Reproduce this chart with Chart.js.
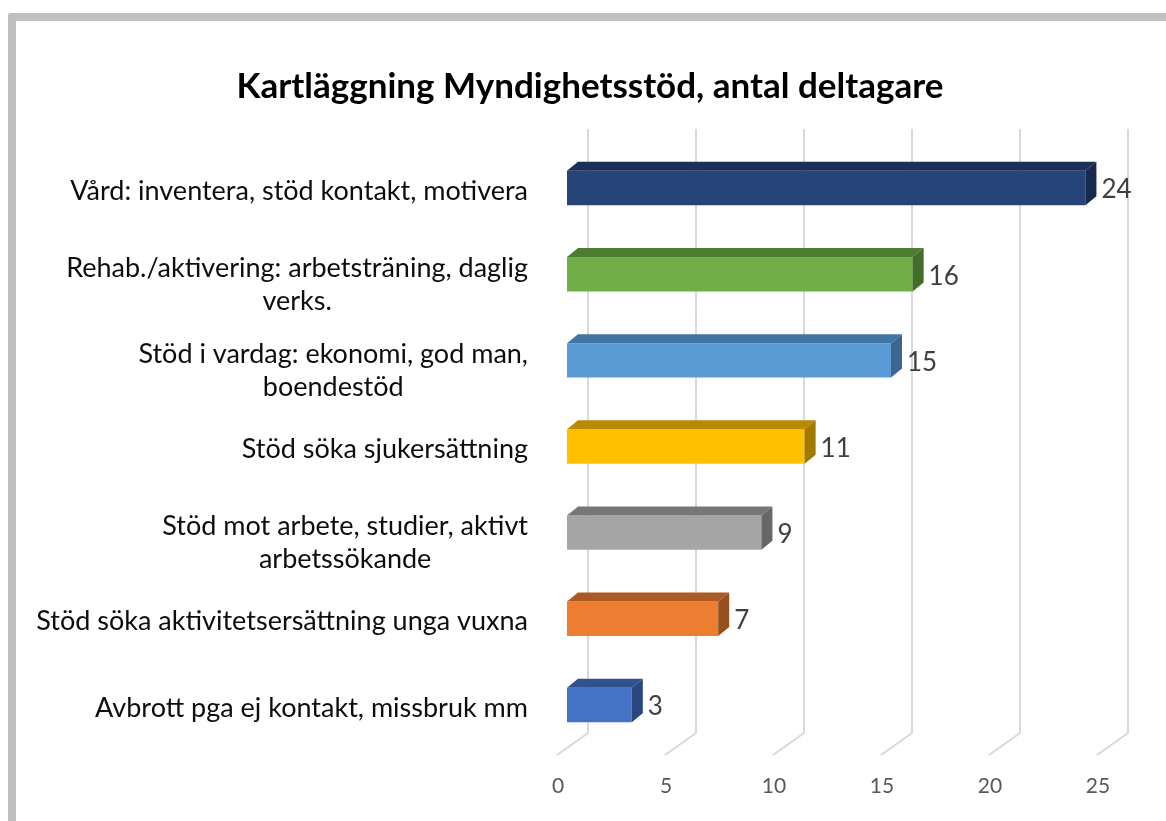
<!DOCTYPE html>
<html lang="sv">
<head>
  <meta charset="UTF-8">
  <title>Kartläggning Myndighetsstöd</title>
  <style>
    body, html {
      width: 100%;
      height: 100%;
      margin: 0;
      background-color: #ffffff;
      overflow: hidden;
    }

    #frame {
      position: absolute;
      left: 8px;
      top: 13px;
      right: 0;
      bottom: 0;
      border-top: 8px solid #bfbfbf;
      border-left: 8px solid #bfbfbf;
      border-top-left-radius: 3px;
    }

    #chart {
      position: absolute;
      left: 0;
      top: 0;
    }
  </style>
</head>
<body>
  <div id="frame"></div>
  <canvas id="chart" width="1166" height="821"></canvas>

  <script src="https://cdn.jsdelivr.net/npm/chart.js"></script>
  <script>
    const categories = [
      ['Vård: inventera, stöd kontakt, motivera'],
      ['Rehab./aktivering: arbetsträning, daglig', 'verks.'],
      ['Stöd i vardag: ekonomi, god man,', 'boendestöd'],
      ['Stöd söka sjukersättning'],
      ['Stöd mot arbete, studier, aktivt', 'arbetssökande'],
      ['Stöd söka aktivitetsersättning unga vuxna'],
      ['Avbrott pga ej kontakt, missbruk mm']
    ];
    const values = [24, 16, 15, 11, 9, 7, 3];
    const xTicks = [0, 5, 10, 15, 20, 25];

    const frontColors = ['#264478', '#70ad47', '#5b9bd5', '#ffc000', '#a5a5a5', '#ed7d31', '#4472c4'];
    const darkColors = ['#1b3058', '#4e7b32', '#4375a3', '#b88a00', '#767676', '#ab5a23', '#30538f'];

    const DEPTH_X = 11, DEPTH_Y = 9;      // bar depth
    const FLOOR_X = 31, FLOOR_Y = 22;     // floor depth
    const labelFont = '27px Lato';

    // back wall gridlines + floor lines
    const wallPlugin = {
      id: 'wall',
      beforeDatasetsDraw(chart) {
        const {ctx, chartArea, scales: {x}} = chart;
        ctx.save();
        ctx.strokeStyle = '#d9d9d9';
        ctx.lineWidth = 2;
        xTicks.forEach(v => {
          const px = x.getPixelForValue(v) + 21;
          const bottom = chartArea.bottom - 15;
          ctx.beginPath();
          ctx.moveTo(px, chartArea.top - 16);
          ctx.lineTo(px, bottom);
          ctx.lineTo(px - FLOOR_X, bottom + FLOOR_Y);
          ctx.stroke();
        });
        ctx.restore();
      }
    };

    // top and side faces, value labels, category labels
    const boxPlugin = {
      id: 'box',
      afterDatasetsDraw(chart) {
        const {ctx, scales: {y}} = chart;
        const meta = chart.getDatasetMeta(0);
        ctx.save();
        meta.data.forEach((bar, i) => {
          const top = bar.y - bar.height / 2;
          const bottom = bar.y + bar.height / 2;
          ctx.fillStyle = darkColors[i];
          ctx.beginPath();
          ctx.moveTo(bar.base, top);
          ctx.lineTo(bar.x, top);
          ctx.lineTo(bar.x + DEPTH_X, top - DEPTH_Y);
          ctx.lineTo(bar.base + DEPTH_X, top - DEPTH_Y);
          ctx.closePath();
          ctx.fill();
          // side face, a bit darker than the top
          ctx.beginPath();
          ctx.moveTo(bar.x, top);
          ctx.lineTo(bar.x + DEPTH_X, top - DEPTH_Y);
          ctx.lineTo(bar.x + DEPTH_X, bottom - DEPTH_Y);
          ctx.lineTo(bar.x, bottom);
          ctx.closePath();
          ctx.fill();
          ctx.fillStyle = 'rgba(0,0,0,0.12)';
          ctx.fill();

          ctx.fillStyle = '#404040';
          ctx.font = '26px Lato';
          ctx.textAlign = 'left';
          ctx.textBaseline = 'middle';
          ctx.fillText(values[i], bar.x + DEPTH_X + 5, bar.y + 2);
        });

        ctx.font = labelFont;
        ctx.fillStyle = '#0d0d0d';
        ctx.textAlign = 'center';
        ctx.textBaseline = 'middle';
        categories.forEach((lines, i) => {
          const cy = y.getPixelForTick(i);
          const w = Math.max(...lines.map(l => ctx.measureText(l).width));
          const cx = 528 - w / 2;
          // Excel puts wrapped labels a bit higher
          const first = cy + 3 - (lines.length - 1) * 9;
          lines.forEach((l, k) => ctx.fillText(l, cx, first + k * 33));
        });
        ctx.restore();
      }
    };

    new Chart(document.getElementById('chart'), {
      type: 'bar',
      data: {
        labels: categories,
        datasets: [{
          data: values,
          backgroundColor: frontColors,
          borderWidth: 0,
          barPercentage: 0.4,
          categoryPercentage: 1
        }]
      },
      options: {
        indexAxis: 'y',
        responsive: false,
        animation: false,
        layout: {
          padding: {left: 73, right: 59, top: 0, bottom: 13}
        },
        scales: {
          x: {
            min: 0,
            max: 25,
            grid: {display: false, drawTicks: false},
            border: {display: false},
            afterBuildTicks(scale) {
              scale.ticks = xTicks.map(v => ({value: v}));
            },
            afterFit(scale) {
              scale.height = 60;
            },
            ticks: {
              color: '#595959',
              font: {family: 'Lato', size: 21},
              labelOffset: -9,
              padding: 26,
              maxRotation: 0
            }
          },
          y: {
            grid: {display: false},
            border: {display: false},
            ticks: {display: false},
            afterFit(scale) {
              scale.width = 494;
            }
          }
        },
        plugins: {
          legend: {display: false},
          tooltip: {enabled: false},
          title: {
            display: true,
            text: 'Kartläggning Myndighetsstöd, antal deltagare',
            color: '#000000',
            font: {family: 'Lato', size: 35, weight: 'bold', lineHeight: 1.2},
            padding: {top: 66, bottom: 37}
          }
        }
      },
      plugins: [wallPlugin, boxPlugin]
    });
  </script>
</body>
</html>
